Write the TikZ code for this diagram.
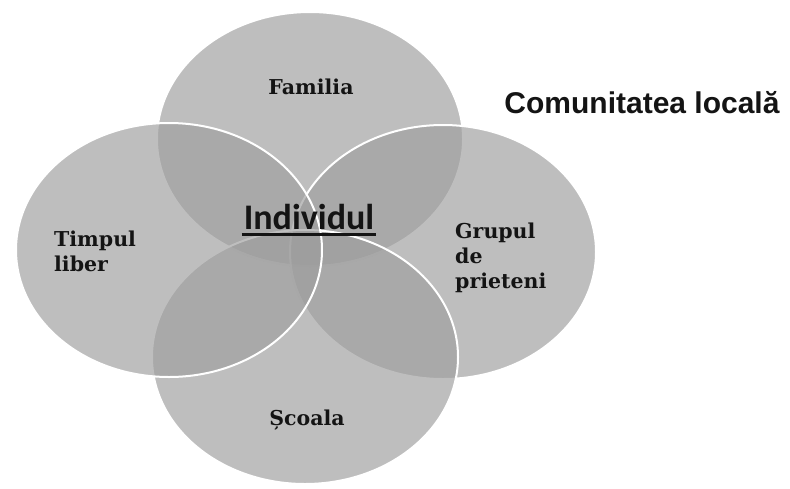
\documentclass[tikz,border=0pt]{standalone}
\usepackage{fontspec}
\setmainfont{DejaVu Serif}
\newfontfamily\labelfont{DejaVu Serif}
\newfontfamily\indfont{Carlito}
\newfontfamily\comfont{Liberation Sans}
\usetikzlibrary{shapes.geometric}
\definecolor{circfill}{RGB}{157,157,157}
\definecolor{txt}{RGB}{20,20,20}
\tikzset{
  circ/.style={ellipse, minimum width=306pt, minimum height=254pt, inner sep=0pt,
    fill=circfill, fill opacity=0.66, draw=white, line width=2pt},
  lbl/.style={text=txt, inner sep=0pt, font=\labelfont\bfseries\fontsize{20.5}{25}\selectfont}
}
\begin{document}
\begin{tikzpicture}[x=1pt,y=-1pt]
\useasboundingbox (0,0) rectangle (790,488);
\node[circ] (top) at (310,139) {};
\node[circ] (right) at (443,252) {};
\node[circ] (bottom) at (305,357) {};
\node[circ] (left) at (169,250) {};
\node[lbl] (familia) at (311,87) {Familia};
\node[lbl, align=left, anchor=west] (timpul) at (54,251) {Timpul\\liber};
\node[lbl, align=left, anchor=west] (grupul) at (455,258) {Grupul\\de\\prieteni};
\node[lbl] (scoala) at (307,420) {Școala};
\node[text=txt, inner sep=0pt, font=\indfont\bfseries\fontsize{36}{40}\selectfont] (ind) at (309,217) {Individul};
\draw[txt, line width=2.5pt] ([xshift=-2pt,yshift=-5pt]ind.base west) -- ([xshift=2pt,yshift=-5pt]ind.base east);
\node[text=txt, inner sep=0pt, font=\comfont\bfseries\fontsize{30}{34}\selectfont] (com) at (642,103) {Comunitatea locală};
\end{tikzpicture}
\end{document}
